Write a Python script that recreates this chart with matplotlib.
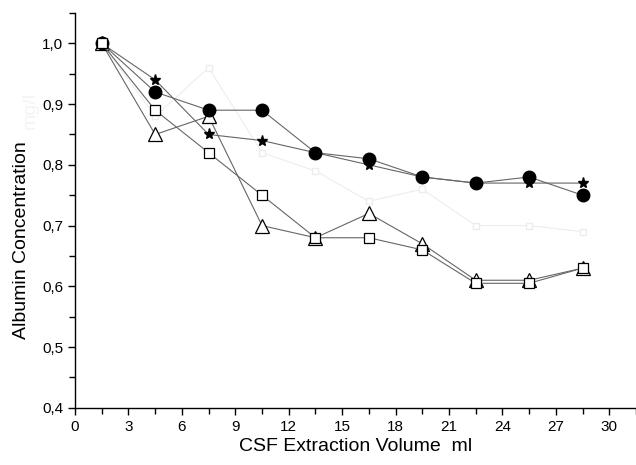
import matplotlib.pyplot as plt
from matplotlib.ticker import MultipleLocator, FuncFormatter

plt.rcParams["font.family"] = ["Liberation Sans", "DejaVu Sans"]

# --- DATA ---
volume = [1.5, 4.5, 7.5, 10.5, 13.5, 16.5, 19.5, 22.5, 25.5, 28.5]
circles = [1.0, 0.92, 0.89, 0.89, 0.82, 0.81, 0.78, 0.77, 0.78, 0.75]
stars = [1.0, 0.94, 0.85, 0.84, 0.82, 0.80, 0.78, 0.77, 0.77, 0.77]
triangles = [1.0, 0.85, 0.88, 0.70, 0.68, 0.72, 0.67, 0.61, 0.61, 0.63]
squares = [1.0, 0.89, 0.82, 0.75, 0.68, 0.68, 0.66, 0.605, 0.605, 0.63]
faint = [1.0, 0.88, 0.96, 0.82, 0.79, 0.74, 0.76, 0.70, 0.70, 0.69]

fig = plt.figure(figsize=(6.36, 4.65), dpi=100)
ax = fig.add_axes([0.118, 0.123, 0.882, 0.849])

line_kw = dict(color="#666666", linewidth=0.8)

# very light background series
ax.plot(volume, faint, color="#ededed", linewidth=0.8, marker="s",
        markersize=4, markerfacecolor="white", markeredgecolor="#ededed")

ax.plot(volume, stars, marker="*", markersize=8, markerfacecolor="black",
        markeredgecolor="black", **line_kw)
ax.plot(volume, triangles, marker="^", markersize=10, markerfacecolor="white",
        markeredgecolor="black", markeredgewidth=0.9, **line_kw)
ax.plot(volume, circles, marker="o", markersize=9, markerfacecolor="black",
        markeredgecolor="black", **line_kw)
ax.plot(volume, squares, marker="s", markersize=7.5, markerfacecolor="white",
        markeredgecolor="black", markeredgewidth=0.9, **line_kw)

ax.set_xlim(0, 31.5)
ax.set_ylim(0.4, 1.05)

ax.xaxis.set_major_locator(MultipleLocator(3))
ax.xaxis.set_minor_locator(MultipleLocator(1.5))
ax.yaxis.set_major_locator(MultipleLocator(0.1))
ax.yaxis.set_minor_locator(MultipleLocator(0.05))
ax.yaxis.set_major_formatter(FuncFormatter(lambda v, p: f"{v:.1f}".replace(".", ",")))

ax.spines["top"].set_visible(False)
ax.spines["right"].set_visible(False)
for s in ("left", "bottom"):
    ax.spines[s].set_linewidth(1.0)

ax.tick_params(which="major", direction="out", length=5, width=1.0, labelsize=11)
ax.tick_params(which="minor", direction="out", length=4, width=1.0)

ax.set_xlabel("CSF Extraction Volume  ml", fontsize=14, labelpad=3)
ax.set_ylabel("Albumin Concentration", fontsize=14)
ax.yaxis.set_label_coords(-0.08, 0.425)
ax.text(-0.08, 0.754, "mg/l", transform=ax.transAxes, rotation=90,
        fontsize=14, color="#f4f4f4", ha="center", va="center")

fig.savefig("out.png", dpi=100)
